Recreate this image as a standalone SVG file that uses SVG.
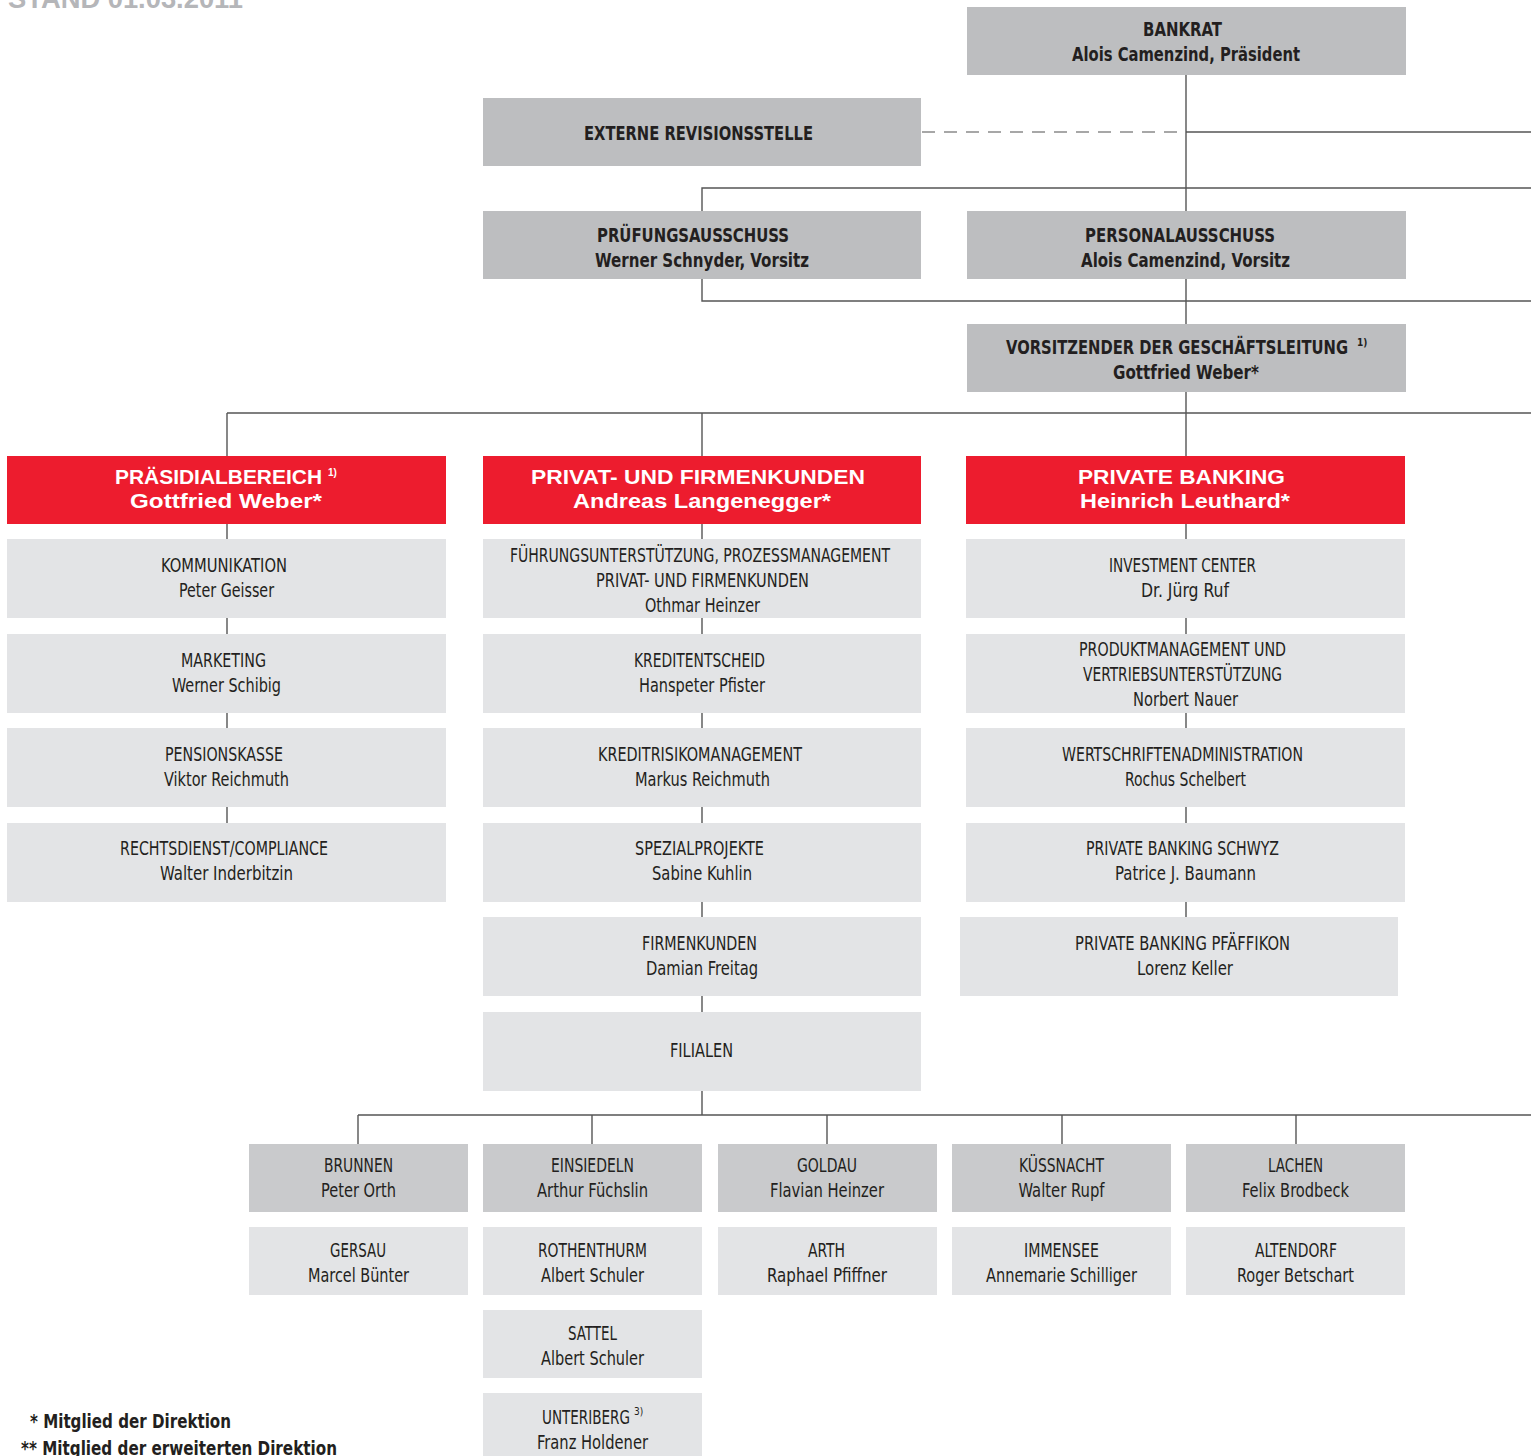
<svg xmlns="http://www.w3.org/2000/svg" width="1531" height="1456" viewBox="0 0 1531 1456">
<style>
.bg{fill:#ffffff}
.dk{fill:#bdbec0}
.md{fill:#c9cacc}
.lt{fill:#e3e4e6}
.rd{fill:#ed1c2e}
text{font-family:"Liberation Sans Narrow","DejaVu Sans Condensed","Liberation Sans",sans-serif;font-size:19.5px;fill:#231f20;text-anchor:middle}
.b{font-weight:bold}
.w{font-family:"Liberation Sans","DejaVu Sans",sans-serif;font-weight:bold;fill:#ffffff;font-size:20px}
.sup{font-size:10px;font-weight:bold;text-anchor:start}
.supw{font-family:"Liberation Sans",sans-serif;font-size:10px;font-weight:bold;fill:#ffffff;text-anchor:start}
.fn{text-anchor:start;font-weight:bold}
.title{font-family:"Liberation Sans",sans-serif;font-size:28px;font-weight:bold;fill:#b5b6b9;text-anchor:start}
.ln{stroke:#555555;stroke-width:1.4;fill:none}
.ds{stroke:#8a8a8a;stroke-width:1.6;fill:none;stroke-dasharray:13 9}
</style>
<rect class="bg" x="0" y="0" width="1531" height="1456"/>
<text class="title" x="8" y="8" textLength="235" lengthAdjust="spacingAndGlyphs">STAND 01.03.2011</text>

<g id="connectors">
<line class="ln" x1="1186" y1="75" x2="1186" y2="996"/>
<line class="ds" x1="922" y1="132" x2="1180" y2="132"/>
<line class="ln" x1="1186" y1="132" x2="1531" y2="132"/>
<polyline class="ln" points="702,211 702,188 1531,188"/>
<polyline class="ln" points="702,279 702,301 1531,301"/>
<line class="ln" x1="227" y1="413" x2="1531" y2="413"/>
<line class="ln" x1="227" y1="413" x2="227" y2="902"/>
<line class="ln" x1="702" y1="413" x2="702" y2="1115"/>
<line class="ln" x1="358" y1="1115" x2="1531" y2="1115"/>
<line class="ln" x1="358" y1="1115" x2="358" y2="1144"/>
<line class="ln" x1="592" y1="1115" x2="592" y2="1144"/>
<line class="ln" x1="827" y1="1115" x2="827" y2="1144"/>
<line class="ln" x1="1062" y1="1115" x2="1062" y2="1144"/>
<line class="ln" x1="1296" y1="1115" x2="1296" y2="1144"/>
</g>

<g id="bankrat"><rect class="dk" x="967" y="7" width="439" height="68"/>
<text class="b" x="1182.5" y="36" textLength="79" lengthAdjust="spacingAndGlyphs">BANKRAT</text>
<text class="b" x="1186" y="61" textLength="228" lengthAdjust="spacingAndGlyphs">Alois Camenzind, Präsident</text></g>

<g id="externe"><rect class="dk" x="483" y="98" width="438" height="68"/>
<text class="b" x="698.5" y="140" textLength="229" lengthAdjust="spacingAndGlyphs">EXTERNE REVISIONSSTELLE</text></g>

<g id="pruefung"><rect class="dk" x="483" y="211" width="438" height="68"/>
<text class="b" x="693" y="242" textLength="192" lengthAdjust="spacingAndGlyphs">PRÜFUNGSAUSSCHUSS</text>
<text class="b" x="702" y="267" textLength="214" lengthAdjust="spacingAndGlyphs">Werner Schnyder, Vorsitz</text></g>

<g id="personal"><rect class="dk" x="967" y="211" width="439" height="68"/>
<text class="b" x="1180" y="242" textLength="190" lengthAdjust="spacingAndGlyphs">PERSONALAUSSCHUSS</text>
<text class="b" x="1185.5" y="267" textLength="209" lengthAdjust="spacingAndGlyphs">Alois Camenzind, Vorsitz</text></g>

<g id="vorsitz"><rect class="dk" x="967" y="324" width="439" height="68"/>
<text class="b" x="1177" y="354" textLength="342" lengthAdjust="spacingAndGlyphs">VORSITZENDER DER GESCHÄFTSLEITUNG</text>
<text class="sup" x="1357" y="346">1)</text>
<text class="b" x="1186" y="379" textLength="146" lengthAdjust="spacingAndGlyphs">Gottfried Weber*</text></g>

<g id="praesidial"><rect class="rd" x="7" y="456" width="439" height="68"/>
<text class="w" x="218.5" y="484" textLength="207" lengthAdjust="spacingAndGlyphs">PRÄSIDIALBEREICH</text>
<text class="supw" x="328" y="476">1)</text>
<text class="w" x="226" y="508" textLength="192" lengthAdjust="spacingAndGlyphs">Gottfried Weber*</text></g>

<g id="privat"><rect class="rd" x="483" y="456" width="438" height="68"/>
<text class="w" x="698" y="484" textLength="334" lengthAdjust="spacingAndGlyphs">PRIVAT- UND FIRMENKUNDEN</text>
<text class="w" x="702" y="508" textLength="258" lengthAdjust="spacingAndGlyphs">Andreas Langenegger*</text></g>

<g id="pbanking"><rect class="rd" x="966" y="456" width="439" height="68"/>
<text class="w" x="1181.5" y="484" textLength="207" lengthAdjust="spacingAndGlyphs">PRIVATE BANKING</text>
<text class="w" x="1185" y="508" textLength="210" lengthAdjust="spacingAndGlyphs">Heinrich Leuthard*</text></g>

<g id="kommunikation"><rect class="lt" x="7" y="539" width="439" height="79"/>
<text x="224" y="572" textLength="126" lengthAdjust="spacingAndGlyphs">KOMMUNIKATION</text>
<text x="226.5" y="597" textLength="95" lengthAdjust="spacingAndGlyphs">Peter Geisser</text></g>
<g id="marketing"><rect class="lt" x="7" y="634" width="439" height="79"/>
<text x="223.5" y="667" textLength="85" lengthAdjust="spacingAndGlyphs">MARKETING</text>
<text x="226.5" y="692" textLength="109" lengthAdjust="spacingAndGlyphs">Werner Schibig</text></g>
<g id="pensionskasse"><rect class="lt" x="7" y="728" width="439" height="79"/>
<text x="224" y="761" textLength="118" lengthAdjust="spacingAndGlyphs">PENSIONSKASSE</text>
<text x="226.5" y="786" textLength="125" lengthAdjust="spacingAndGlyphs">Viktor Reichmuth</text></g>
<g id="rechtsdienst"><rect class="lt" x="7" y="823" width="439" height="79"/>
<text x="224" y="855" textLength="208" lengthAdjust="spacingAndGlyphs">RECHTSDIENST/COMPLIANCE</text>
<text x="226.5" y="880" textLength="133" lengthAdjust="spacingAndGlyphs">Walter Inderbitzin</text></g>

<g id="fuehrung"><rect class="lt" x="483" y="539" width="438" height="79"/>
<text x="700" y="562" textLength="380" lengthAdjust="spacingAndGlyphs">FÜHRUNGSUNTERSTÜTZUNG, PROZESSMANAGEMENT</text>
<text x="702.5" y="587" textLength="213" lengthAdjust="spacingAndGlyphs">PRIVAT- UND FIRMENKUNDEN</text>
<text x="702.5" y="612" textLength="115" lengthAdjust="spacingAndGlyphs">Othmar Heinzer</text></g>
<g id="kreditentscheid"><rect class="lt" x="483" y="634" width="438" height="79"/>
<text x="699.5" y="667" textLength="131" lengthAdjust="spacingAndGlyphs">KREDITENTSCHEID</text>
<text x="702" y="692" textLength="126" lengthAdjust="spacingAndGlyphs">Hanspeter Pfister</text></g>
<g id="kreditrisiko"><rect class="lt" x="483" y="728" width="438" height="79"/>
<text x="700" y="761" textLength="204" lengthAdjust="spacingAndGlyphs">KREDITRISIKOMANAGEMENT</text>
<text x="702.5" y="786" textLength="135" lengthAdjust="spacingAndGlyphs">Markus Reichmuth</text></g>
<g id="spezialprojekte"><rect class="lt" x="483" y="823" width="438" height="79"/>
<text x="699.5" y="855" textLength="129" lengthAdjust="spacingAndGlyphs">SPEZIALPROJEKTE</text>
<text x="702" y="880" textLength="100" lengthAdjust="spacingAndGlyphs">Sabine Kuhlin</text></g>
<g id="firmenkunden"><rect class="lt" x="483" y="917" width="438" height="79"/>
<text x="699.5" y="950" textLength="115" lengthAdjust="spacingAndGlyphs">FIRMENKUNDEN</text>
<text x="702" y="975" textLength="112" lengthAdjust="spacingAndGlyphs">Damian Freitag</text></g>
<g id="filialen"><rect class="lt" x="483" y="1012" width="438" height="79"/>
<text x="701.5" y="1057" textLength="63" lengthAdjust="spacingAndGlyphs">FILIALEN</text></g>

<g id="investment"><rect class="lt" x="966" y="539" width="439" height="79"/>
<text x="1182.5" y="572" textLength="147" lengthAdjust="spacingAndGlyphs">INVESTMENT CENTER</text>
<text x="1185" y="597" textLength="88" lengthAdjust="spacingAndGlyphs">Dr. Jürg Ruf</text></g>
<g id="produkt"><rect class="lt" x="966" y="634" width="439" height="79"/>
<text x="1182.5" y="656" textLength="207" lengthAdjust="spacingAndGlyphs">PRODUKTMANAGEMENT UND</text>
<text x="1182.5" y="681" textLength="199" lengthAdjust="spacingAndGlyphs">VERTRIEBSUNTERSTÜTZUNG</text>
<text x="1185.5" y="706" textLength="105" lengthAdjust="spacingAndGlyphs">Norbert Nauer</text></g>
<g id="wertschriften"><rect class="lt" x="966" y="728" width="439" height="79"/>
<text x="1182.5" y="761" textLength="241" lengthAdjust="spacingAndGlyphs">WERTSCHRIFTENADMINISTRATION</text>
<text x="1185.5" y="786" textLength="121" lengthAdjust="spacingAndGlyphs">Rochus Schelbert</text></g>
<g id="pbschwyz"><rect class="lt" x="966" y="823" width="439" height="79"/>
<text x="1182.5" y="855" textLength="193" lengthAdjust="spacingAndGlyphs">PRIVATE BANKING SCHWYZ</text>
<text x="1185.5" y="880" textLength="141" lengthAdjust="spacingAndGlyphs">Patrice J. Baumann</text></g>
<g id="pbpfaeffikon"><rect class="lt" x="960" y="917" width="438" height="79"/>
<text x="1182.5" y="950" textLength="215" lengthAdjust="spacingAndGlyphs">PRIVATE BANKING PFÄFFIKON</text>
<text x="1185" y="975" textLength="96" lengthAdjust="spacingAndGlyphs">Lorenz Keller</text></g>

<g id="brunnen"><rect class="md" x="249" y="1144" width="219" height="68"/>
<text x="358.5" y="1172" textLength="69" lengthAdjust="spacingAndGlyphs">BRUNNEN</text>
<text x="358.5" y="1197" textLength="75" lengthAdjust="spacingAndGlyphs">Peter Orth</text></g>
<g id="einsiedeln"><rect class="md" x="483" y="1144" width="219" height="68"/>
<text x="592.5" y="1172" textLength="83" lengthAdjust="spacingAndGlyphs">EINSIEDELN</text>
<text x="592.5" y="1197" textLength="111" lengthAdjust="spacingAndGlyphs">Arthur Füchslin</text></g>
<g id="goldau"><rect class="md" x="718" y="1144" width="219" height="68"/>
<text x="827" y="1172" textLength="60" lengthAdjust="spacingAndGlyphs">GOLDAU</text>
<text x="827" y="1197" textLength="114" lengthAdjust="spacingAndGlyphs">Flavian Heinzer</text></g>
<g id="kuessnacht"><rect class="md" x="952" y="1144" width="219" height="68"/>
<text x="1061.5" y="1172" textLength="85" lengthAdjust="spacingAndGlyphs">KÜSSNACHT</text>
<text x="1061.5" y="1197" textLength="86" lengthAdjust="spacingAndGlyphs">Walter Rupf</text></g>
<g id="lachen"><rect class="md" x="1186" y="1144" width="219" height="68"/>
<text x="1295.5" y="1172" textLength="55" lengthAdjust="spacingAndGlyphs">LACHEN</text>
<text x="1295.5" y="1197" textLength="107" lengthAdjust="spacingAndGlyphs">Felix Brodbeck</text></g>

<g id="gersau"><rect class="lt" x="249" y="1227" width="219" height="68"/>
<text x="358" y="1257" textLength="56" lengthAdjust="spacingAndGlyphs">GERSAU</text>
<text x="358.5" y="1282" textLength="101" lengthAdjust="spacingAndGlyphs">Marcel Bünter</text></g>
<g id="rothenthurm"><rect class="lt" x="483" y="1227" width="219" height="68"/>
<text x="592.5" y="1257" textLength="109" lengthAdjust="spacingAndGlyphs">ROTHENTHURM</text>
<text x="592.5" y="1282" textLength="103" lengthAdjust="spacingAndGlyphs">Albert Schuler</text></g>
<g id="arth"><rect class="lt" x="718" y="1227" width="219" height="68"/>
<text x="826.5" y="1257" textLength="37" lengthAdjust="spacingAndGlyphs">ARTH</text>
<text x="827" y="1282" textLength="120" lengthAdjust="spacingAndGlyphs">Raphael Pfiffner</text></g>
<g id="immensee"><rect class="lt" x="952" y="1227" width="219" height="68"/>
<text x="1061.5" y="1257" textLength="75" lengthAdjust="spacingAndGlyphs">IMMENSEE</text>
<text x="1061.5" y="1282" textLength="151" lengthAdjust="spacingAndGlyphs">Annemarie Schilliger</text></g>
<g id="altendorf"><rect class="lt" x="1186" y="1227" width="219" height="68"/>
<text x="1296" y="1257" textLength="82" lengthAdjust="spacingAndGlyphs">ALTENDORF</text>
<text x="1295.5" y="1282" textLength="117" lengthAdjust="spacingAndGlyphs">Roger Betschart</text></g>
<g id="sattel"><rect class="lt" x="483" y="1310" width="219" height="68"/>
<text x="592.5" y="1340" textLength="49" lengthAdjust="spacingAndGlyphs">SATTEL</text>
<text x="592.5" y="1365" textLength="103" lengthAdjust="spacingAndGlyphs">Albert Schuler</text></g>
<g id="unteriberg"><rect class="lt" x="483" y="1393" width="219" height="70"/>
<text x="586" y="1424" textLength="88" lengthAdjust="spacingAndGlyphs">UNTERIBERG</text>
<text class="sup" x="634" y="1415" style="font-weight:normal">3)</text>
<text x="592.5" y="1449" textLength="111" lengthAdjust="spacingAndGlyphs">Franz Holdener</text></g>

<g id="footnotes">
<text class="fn" x="30" y="1428" textLength="201" lengthAdjust="spacingAndGlyphs">* Mitglied der Direktion</text>
<text class="fn" x="21" y="1455" textLength="316" lengthAdjust="spacingAndGlyphs">** Mitglied der erweiterten Direktion</text>
</g>
</svg>
